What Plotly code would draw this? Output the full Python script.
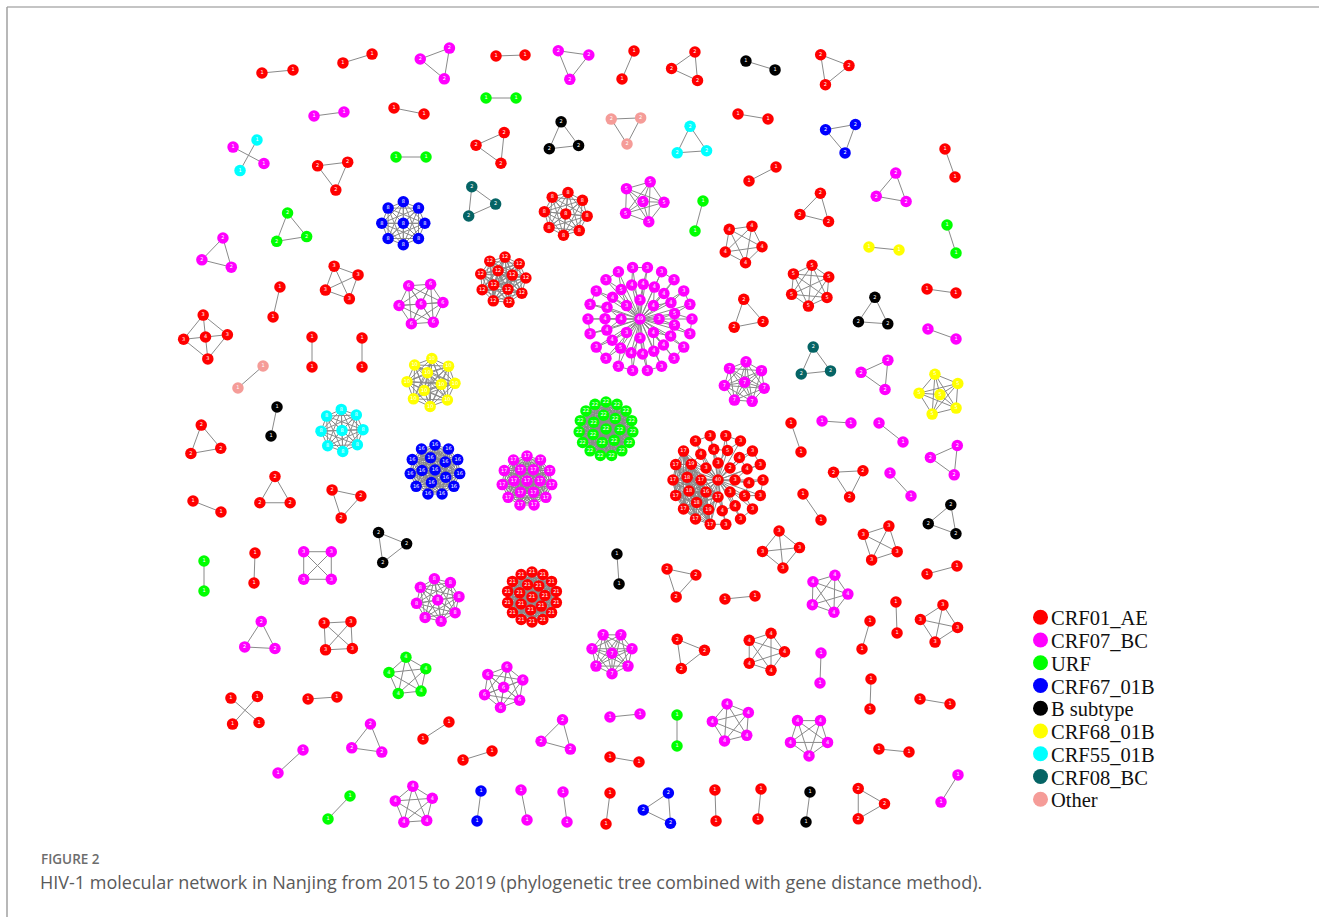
import math
import plotly.graph_objects as go

# ---------------- categories ----------------
SUBTYPES = ["CRF01_AE", "CRF07_BC", "URF", "CRF67_01B", "B subtype",
            "CRF68_01B", "CRF55_01B", "CRF08_BC", "Other"]
AE, BC7, URF, B67, BB, B68, B55, BC8, OT = SUBTYPES

# ---------------- network layout data (layout units) ----------------
# pairs: (subtype, x, y, half-length, angle)
pairs = [
    (AE, 277.5, 71.5, 15.6, -5.5), (AE, 357.5, 58.5, 15.2, -17), (AE, 510.5, 55.5, 14.5, -2),
    (AE, 628, 65, 15.2, -66.8), (BB, 760.5, 65.5, 15.2, 17), (BC7, 329, 114, 15.1, -7.6),
    (AE, 409, 111, 15.3, 11.3), (URF, 501, 98, 15, 0), (AE, 753, 116.5, 15.2, 9.5),
    (URF, 411, 157, 15, 0), (AE, 950, 163, 14.9, 70.3), (AE, 762.5, 174, 15.2, -27.4),
    (URF, 699, 216, 15.5, 104.9), (URF, 951.5, 239, 14.7, 72.2), (B68, 884, 248.5, 15.1, 5.7),
    (AE, 276.5, 302, 15.4, 103), (AE, 941.5, 291, 14.6, 7.9), (AE, 312, 352, 15, 90),
    (AE, 362, 352.5, 14.5, 90), (BC7, 942, 334, 14.9, 19.7), (OT, 250.5, 377, 16.7, 138.7),
    (BB, 274, 421.5, 14.8, 101.7), (AE, 796, 437.5, 15.3, 71), (BC7, 836.5, 422, 14.5, 4),
    (BC7, 891, 432.5, 15.3, 38.4), (BC7, 900.5, 484.5, 15.6, 47.6), (AE, 207, 506.5, 15, 21.4),
    (AE, 812, 507, 15.8, 55.3), (URF, 204, 576, 15, 90), (AE, 254.5, 568, 15, 92),
    (BB, 618, 569, 15, 86), (AE, 942, 570, 15.5, -15), (AE, 740, 597.5, 15.1, -5.7),
    (AE, 896.5, 617.5, 15.5, 88), (AE, 866, 635, 14.6, 106), (BC7, 820.5, 668, 15, 92),
    (AE, 870.5, 694, 15, 92), (AE, 322.5, 698, 14.5, -4), (AE, 935, 701.5, 15.2, 9.5),
    (BC7, 625, 715.5, 15.1, -5.7), (URF, 677, 730.5, 15.5, 90), (AE, 436, 730.5, 15.5, 146.8),
    (AE, 894, 750.5, 15.1, 5.7), (BC7, 290.5, 761.5, 17, 137.4), (AE, 477.5, 755.5, 15.2, -17.2),
    (AE, 624.5, 759.5, 14.7, 9.8), (BC7, 949.5, 788.5, 16, 122), (URF, 339, 807.5, 15.9, 133.7),
    (B67, 479, 806, 15.1, 97.6), (BC7, 524, 805, 15.3, 78.7), (BC7, 565, 807, 15.1, 82.4),
    (AE, 608, 808.5, 15.6, 97.4), (AE, 715.5, 805.5, 15.5, 88), (AE, 759.5, 804, 15.1, 95.7),
    (BB, 808, 807, 15.1, 97.6),
    (BC7, 248.5, 155.3, 17.5, 208), (B55, 248.5, 155.3, 17.5, 299),
    (AE, 245, 710.3, 18.6, 221), (AE, 245, 710.3, 18.6, 312),
]

# triangles: (subtype, x, y, radius, angle)
triangles = [
    (BC7, 438, 62, 18, 189.5), (BC7, 572.3, 61.7, 17.8, 218), (AE, 688, 67, 16.5, 294.8),
    (AE, 831.7, 68.3, 17.5, 231), (AE, 493.7, 147, 17.8, 186), (BB, 563, 138.7, 17, 263.6),
    (OT, 626.3, 127, 17, 207.6), (B55, 691.3, 143.3, 17, 266), (B67, 842, 135.7, 17.5, 200),
    (BC7, 892.7, 190.3, 17.5, 280), (AE, 333.7, 172.7, 17.5, 203), (BC8, 478.7, 202.3, 17, 246),
    (URF, 290.3, 230.3, 17.5, 261), (BC7, 218.7, 255, 17.5, 284), (AE, 816.3, 209.7, 17, 284),
    (AE, 747, 316, 17, 259), (BB, 873.7, 314.3, 17, 274), (BC8, 815, 364, 17, 264),
    (BC7, 878, 374, 17, 305.5), (AE, 204.3, 442.3, 17.5, 260), (BC7, 947.3, 459.3, 17, 306),
    (AE, 848.7, 480, 17, 207), (AE, 275, 494, 17.5, 270), (AE, 344.7, 501.3, 17, 222),
    (BB, 389.3, 546.3, 17.5, 232), (BB, 945, 520.7, 17, 290), (AE, 679.7, 580.3, 17, 222),
    (BC7, 260.3, 639, 17.5, 273), (AE, 687.7, 652.7, 17, 232), (BC7, 368, 741.3, 17.5, 278),
    (BC7, 558, 736.7, 17.5, 285), (B67, 660.7, 808.7, 17.5, 296), (AE, 867, 803.7, 17.5, 240),
]

# complete clusters: (subtype, x, y, ring nodes, radius, angle, centre nodes)
cliques = [
    (AE, 341.75, 282.5, 4, 18, 245, 0), (BC7, 317.5, 565.5, 4, 19.5, 225, 0),
    (AE, 338.25, 635.75, 4, 19, 222, 0), (AE, 781, 549.5, 4, 18.6, 264, 0),
    (AE, 880.25, 543, 4, 19, 297, 0), (AE, 939, 623.5, 4, 19, 282, 0),
    (AE, 742.8, 243.4, 5, 19.5, 298, 0), (BC7, 828.4, 593.6, 5, 19.5, 289.5, 0),
    (AE, 765, 651.8, 5, 19.5, 288, 0), (URF, 408, 676.6, 5, 19.5, 264, 0),
    (BC7, 731.8, 722.8, 5, 19.5, 256, 0), (BC7, 809, 736.4, 5, 19.5, 90, 0),
    (BC7, 414.2, 805.6, 5, 19.5, 266, 0), (BC7, 643, 201.6, 5, 21, 290, 1),
    (B68, 940, 394.6, 5, 21, 256, 1), (AE, 810.2, 285.7, 6, 20.5, 275, 0),
    (BC7, 421, 304, 6, 22, 236, 1), (BC7, 503.7, 687.3, 6, 20.5, 279, 1),
    (BC7, 744.6, 382.3, 7, 20.5, 274, 1), (BC7, 612, 653.3, 7, 20.5, 90, 1),
    (B67, 403.3, 223.3, 8, 21.5, 270, 1), (AE, 565.75, 213.9, 8, 21.5, 276, 1),
    (B55, 342, 430.4, 8, 21, 268, 1), (BC7, 437.75, 600, 8, 21.5, 261, 1),
]

# wheel clusters (cycle + spokes): (subtype, x, y, ring nodes, radius, angle)
wheels = [
    (AE, 205.5, 337, 4, 22, 264),
]

# dense clusters: (subtype, x, y, rings[(count, radius, angle)])
dense = [
    (B67, 435, 470, [(1, 0, 0), (5, 13, 250), (11, 25, 270)]),
    (BC7, 527, 481, [(1, 0, 0), (6, 13, 240), (11, 25, 270)]),
    (URF, 606, 429, [(1, 0, 0), (7, 14, 260), (15, 27, 270)]),
    (AE, 532, 597, [(1, 0, 0), (7, 13, 250), (14, 25, 270)]),
    (B68, 431, 382.5, [(3, 10.5, 250), (8, 24, 272)]),
    (AE, 503, 280, [(4, 10.5, 242), (9, 23, 275)]),
]

# hub (star-like) clusters: (subtype, x, y, rings, densely linked sector)
hubs = [
    (BC7, 640, 319, [(1, 0, 0), (8, 19, 0), (19, 35, 10), (22, 52, 0)], None),
    (AE, 718, 480, [(1, 0, 0), (8, 17, 0), (14, 31, 5), (18, 45, 0)], (90, 220)),
]

# ---------------- style ----------------
COLORS = {AE: "#ff0000", BC7: "#ff00ff", URF: "#00ff00", B67: "#0000ff",
          BB: "#000000", B68: "#ffff00", B55: "#00ffff", BC8: "#056465",
          OT: "#f59c98"}

# ---------------- build graph ----------------
nodes = []   # (x, y, subtype)
edges = []


def ring(cx, cy, n, r, ang):
    return [(cx + r * math.cos(math.radians(ang + 360.0 * k / n)),
             cy + r * math.sin(math.radians(ang + 360.0 * k / n)),
             (ang + 360.0 * k / n) % 360) for k in range(n)]


def add(pts, st):
    start = len(nodes)
    for p in pts:
        nodes.append((p[0], p[1], st))
    return list(range(start, start + len(pts)))


def complete(ids):
    for a in range(len(ids)):
        for b in range(a + 1, len(ids)):
            edges.append((ids[a], ids[b]))


for st, x, y, r, a in pairs:
    ids = add(ring(x, y, 2, r, a), st)
    edges.append((ids[0], ids[1]))

for st, x, y, r, a in triangles:
    complete(add(ring(x, y, 3, r, a), st))

for st, x, y, n, r, a, c in cliques:
    pts = ring(x, y, n, r, a)
    if c:
        pts = pts + [(x, y, 0)]
    complete(add(pts, st))

for st, x, y, n, r, a in wheels:
    ids = add([(x, y, 0)] + ring(x, y, n, r, a), st)
    for k in range(1, n + 1):
        edges.append((ids[0], ids[k]))
        edges.append((ids[k], ids[1 + k % n]))

for st, x, y, rings in dense:
    pts = []
    for n, r, a in rings:
        pts += ring(x, y, n, r, a)
    complete(add(pts, st))

for st, x, y, rings, sector in hubs:
    ring_ids = []
    all_pts = []
    for n, r, a in rings:
        pts = ring(x, y, n, r, a)
        ids = add(pts, st)
        ring_ids.append(ids)
        all_pts += list(zip(ids, pts))
    hub = ring_ids[0][0]
    for i, _ in all_pts[1:]:
        edges.append((hub, i))
    for ids in ring_ids[2:]:
        for k in range(0, len(ids), 2):
            edges.append((ids[k], ids[(k + 1) % len(ids)]))
    for li in range(2, len(ring_ids)):
        for i in ring_ids[li]:
            xi, yi = nodes[i][0], nodes[i][1]
            near = min(ring_ids[li - 1],
                       key=lambda j: (nodes[j][0] - xi) ** 2 + (nodes[j][1] - yi) ** 2)
            edges.append((i, near))
    if sector:
        sec = [i for i, p in all_pts[1:] if sector[0] <= p[2] <= sector[1]]
        complete(sec)

deg = [0] * len(nodes)
for a, b in edges:
    deg[a] += 1
    deg[b] += 1

# ---------------- figure ----------------
fig = go.Figure()

ex, ey = [], []
for a, b in edges:
    ex += [nodes[a][0], nodes[b][0], None]
    ey += [nodes[a][1], nodes[b][1], None]
fig.add_trace(go.Scatter(x=ex, y=ey, mode="lines", hoverinfo="skip",
                         line=dict(color="#8a8a8a", width=1),
                         showlegend=False))

for st in SUBTYPES:
    idx = [i for i, n in enumerate(nodes) if n[2] == st]
    fig.add_trace(go.Scatter(
        x=[nodes[i][0] for i in idx], y=[nodes[i][1] for i in idx],
        mode="markers+text", name=st, showlegend=False,
        text=[str(deg[i]) for i in idx], textposition="middle center",
        textfont=dict(family="DejaVu Sans", size=5, color="white"),
        marker=dict(size=11.5, color=COLORS[st], line=dict(width=0)),
        cliponaxis=False, hovertemplate=st + "<extra></extra>"))

# legend (drawn in layout units)
LEG_X, LEG_Y0, LEG_DY = 1040.5, 617.3, 22.75
fig.add_trace(go.Scatter(
    x=[LEG_X] * len(SUBTYPES), y=[LEG_Y0 + k * LEG_DY for k in range(len(SUBTYPES))],
    mode="markers", showlegend=False, hoverinfo="skip", cliponaxis=False,
    marker=dict(size=15, color=[COLORS[s] for s in SUBTYPES], line=dict(width=0))))
for k, s in enumerate(SUBTYPES):
    fig.add_annotation(x=LEG_X + 8.5, y=LEG_Y0 + k * LEG_DY + 1, text=s, showarrow=False,
                       xanchor="left", yanchor="middle",
                       font=dict(family="Liberation Serif", size=20.5, color="#111111"))

# caption
fig.add_annotation(x=39, y=859, text="FIGURE 2", showarrow=False, xanchor="left",
                   yanchor="middle",
                   font=dict(family="Open Sans", size=13.5, color="#6d6d6d", weight=600))
fig.add_annotation(x=38, y=882, showarrow=False, xanchor="left", yanchor="middle",
                   text="HIV-1 molecular network in Nanjing from 2015 to 2019 "
                        "(phylogenetic tree combined with gene distance method).",
                   font=dict(family="Open Sans", size=18, color="#5a5a5a"))

# frame
fig.add_shape(type="line", x0=7, y0=7, x1=1319, y1=7, line=dict(color="#b0b0b0", width=1.5))
fig.add_shape(type="line", x0=7, y0=7, x1=7, y1=917, line=dict(color="#a0a0a0", width=1.5))

fig.update_layout(
    width=1319, height=917, margin=dict(l=0, r=0, t=0, b=0),
    paper_bgcolor="white", plot_bgcolor="white",
    xaxis=dict(range=[0, 1319], visible=False, fixedrange=True),
    yaxis=dict(range=[917, 0], visible=False, fixedrange=True),
    showlegend=False,
)

fig.write_html("out.html")
